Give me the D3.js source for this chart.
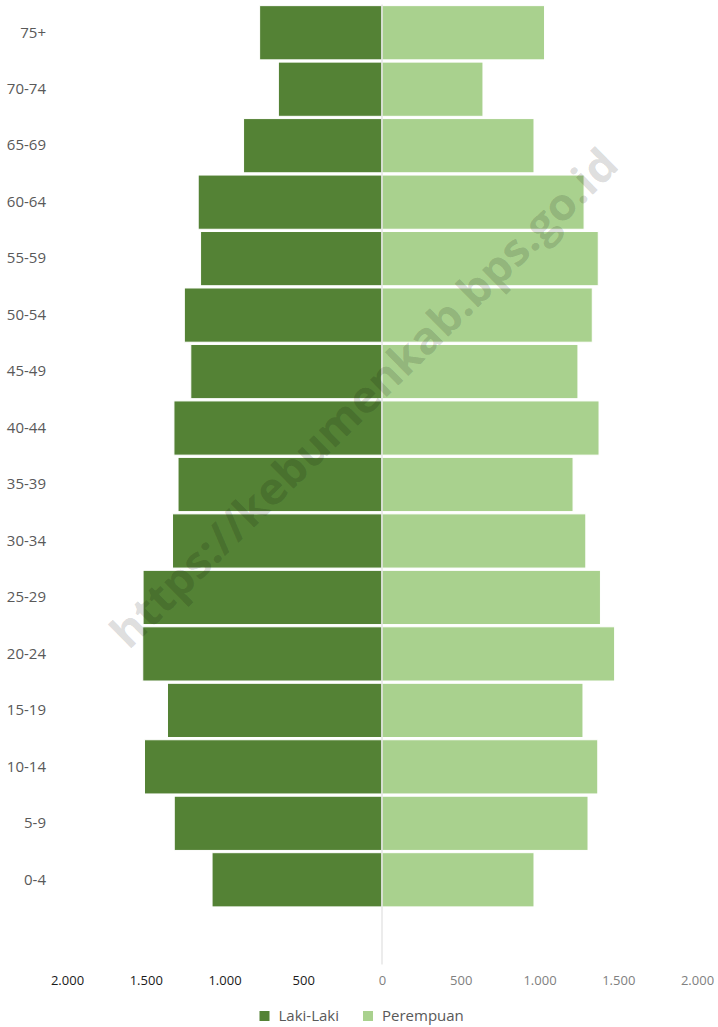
<!DOCTYPE html>
<html>
<head>
<meta charset="utf-8">
<script src="https://cdn.jsdelivr.net/npm/d3@7"></script>
<style>
  html, body { margin: 0; padding: 0; background: #fff; }
  svg { display: block; font-family: "Open Sans", sans-serif; }
</style>
</head>
<body>
<div id="chart"></div>
<script>
(function () {
  "use strict";

  // age groups, top to bottom (last one is the empty slot Excel leaves)
  var ageGroups = ["75+", "70-74", "65-69", "60-64", "55-59", "50-54", "45-49", "40-44",
                   "35-39", "30-34", "25-29", "20-24", "15-19", "10-14", "5-9", "0-4", ""];
  var lakiLaki  = [777, 658, 879, 1167, 1152, 1255, 1214, 1321,
                   1295, 1330, 1517, 1519, 1362, 1508, 1319, 1079];
  var perempuan = [1032, 641, 965, 1283, 1373, 1335, 1244, 1378,
                   1213, 1294, 1387, 1477, 1276, 1370, 1308, 965];
  var xTicks = [-2000, -1500, -1000, -500, 0, 500, 1000, 1500, 2000];
  var seriesNames = ["Laki-Laki", "Perempuan"];
  var seriesColors = ["#548235", "#a9d18e"];
  var watermark = "https://kebumenkab.bps.go.id";

  var width = 718, height = 1027;

  var svg = d3.select("#chart").append("svg")
      .attr("width", width)
      .attr("height", height);

  var x = d3.scaleLinear().domain([-2000, 2000]).range([67, 697]);
  var y = d3.scaleBand().domain(ageGroups).range([4.5, 964.5])
      .paddingInner(0.04).paddingOuter(0.02);

  var rows = ageGroups.slice(0, lakiLaki.length).map(function (g, i) {
    return { group: g, laki: lakiLaki[i], perempuan: perempuan[i] };
  });

  // male bars (left)
  svg.append("g").selectAll("rect")
    .data(rows)
    .enter().append("rect")
      .attr("x", function (d) { return x(-d.laki); })
      .attr("y", function (d) { return y(d.group); })
      .attr("width", function (d) { return x(0) - x(-d.laki); })
      .attr("height", y.bandwidth())
      .attr("fill", seriesColors[0])
      .attr("stroke", "#fff")
      .attr("stroke-width", 1);

  // female bars (right)
  svg.append("g").selectAll("rect")
    .data(rows)
    .enter().append("rect")
      .attr("x", x(0))
      .attr("y", function (d) { return y(d.group); })
      .attr("width", function (d) { return x(d.perempuan) - x(0); })
      .attr("height", y.bandwidth())
      .attr("fill", seriesColors[1])
      .attr("stroke", "#fff")
      .attr("stroke-width", 1);

  // centre axis line
  svg.append("line")
    .attr("x1", x(0)).attr("x2", x(0))
    .attr("y1", y.range()[0]).attr("y2", y.range()[1])
    .attr("stroke", "#d9d9d9")
    .attr("stroke-width", 1);

  // category labels
  var yAxis = svg.append("g")
    .attr("transform", "translate(46,0)")
    .call(d3.axisLeft(y).tickSize(0).tickPadding(0));
  yAxis.select(".domain").remove();
  yAxis.selectAll("text")
    .attr("font-size", 15)
    .attr("font-family", "Open Sans, sans-serif")
    .attr("fill", "#595959");

  // value axis
  var fmt = function (v) {
    return d3.format(",")(Math.abs(v)).replace(/,/g, ".");
  };
  var xAxis = svg.append("g")
    .attr("transform", "translate(0,976)")
    .call(d3.axisBottom(x).tickValues(xTicks).tickFormat(fmt).tickSize(0).tickPadding(0));
  xAxis.select(".domain").remove();
  xAxis.selectAll("text")
    .attr("font-size", 13)
    .attr("font-family", "Open Sans, sans-serif")
    .attr("fill", function (d) { return d < 0 ? "#1a1a1a" : "#808080"; });

  // legend
  var legendX = [259.5, 363];
  var legend = svg.append("g").selectAll("g")
    .data(seriesNames)
    .enter().append("g")
      .attr("transform", function (d, i) { return "translate(" + legendX[i] + ",1011)"; });
  legend.append("rect")
    .attr("width", 10).attr("height", 10)
    .attr("fill", function (d, i) { return seriesColors[i]; });
  legend.append("text")
    .attr("x", 19).attr("y", 5)
    .attr("dy", "0.35em")
    .attr("font-size", 15)
    .attr("fill", "#595959")
    .text(function (d) { return d; });

  // watermark
  svg.append("text")
    .attr("transform", "translate(364,398) rotate(-44.5)")
    .attr("text-anchor", "middle")
    .attr("dy", "0.35em")
    .attr("font-size", 44)
    .attr("font-weight", "bold")
    .attr("textLength", 690)
    .attr("lengthAdjust", "spacingAndGlyphs")
    .attr("fill", "#000")
    .attr("fill-opacity", 0.15)
    .text(watermark);
}());
</script>
</body>
</html>
